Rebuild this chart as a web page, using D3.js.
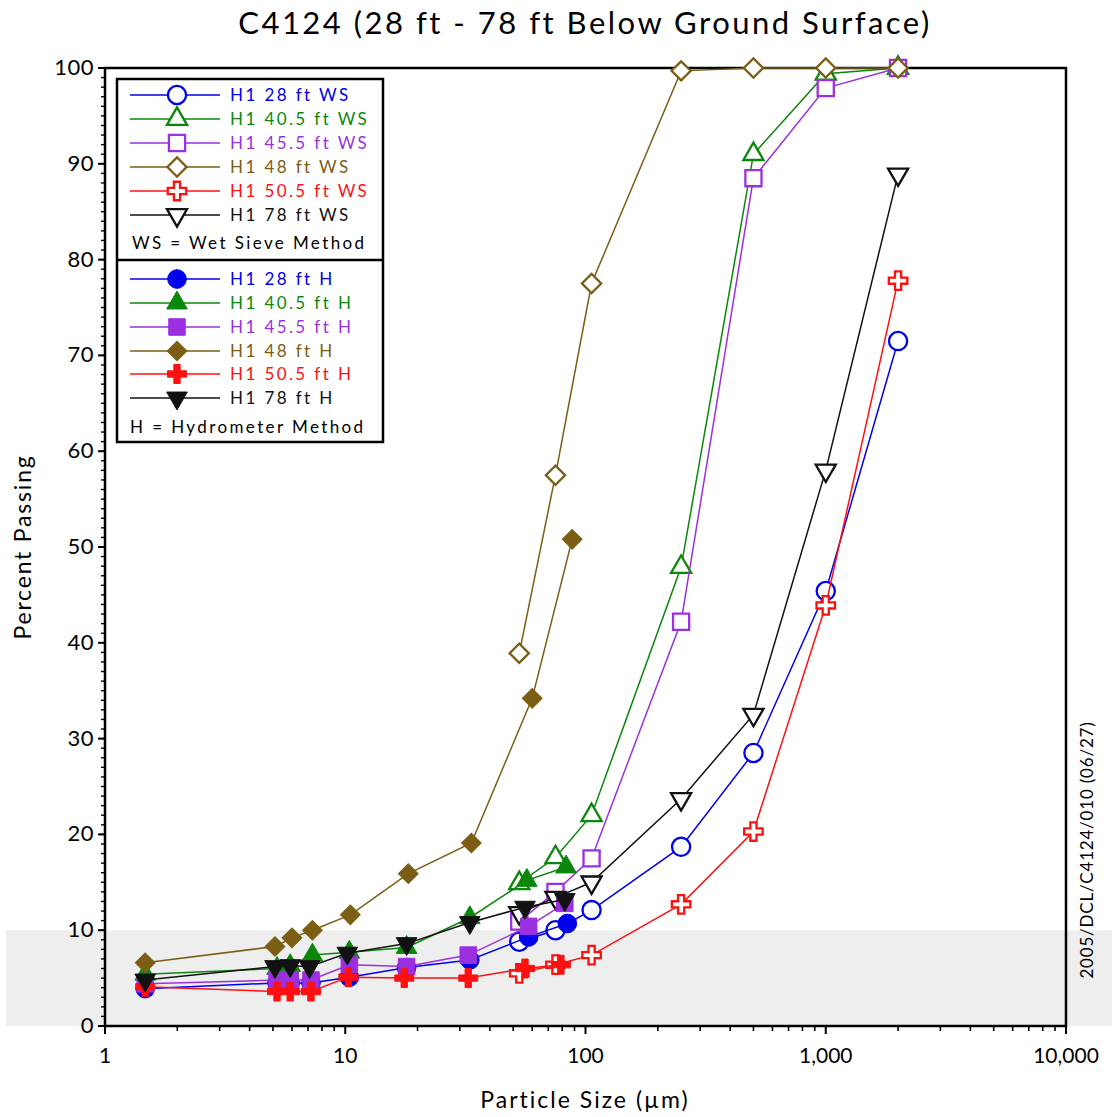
<!DOCTYPE html>
<html>
<head>
<meta charset="utf-8">
<script src="https://cdn.jsdelivr.net/npm/d3@7/dist/d3.min.js"></script>
<style>
  html, body { margin: 0; padding: 0; background: #fff; }
  svg { display: block; }
  text { font-family: Lato, "DejaVu Sans", sans-serif; }
</style>
</head>
<body>
<svg id="chart" width="1112" height="1117"></svg>
<script>
// Sieve sizes (µm) shared by every wet-sieve run
const sieveSizes = [53, 75, 106, 250, 500, 1000, 2000];

// Wet sieve percent passing
const ws28   = [8.8, 10.0, 12.1, 18.7, 28.5, 45.4, 71.5];
const ws40_5 = [14.9, 17.6, 22.0, 47.9, 91.0, 99.4, 100];
const ws45_5 = [10.9, 14.0, 17.5, 42.2, 88.5, 97.9, 100];
const ws48   = [38.9, 57.5, 77.5, 99.7, 100, 100, 100];
const ws50_5 = [5.5, 6.4, 7.4, 12.7, 20.3, 43.9, 77.8];
const ws78   = [11.8, 13.4, 15.0, 23.7, 32.5, 58.0, 88.9];

// Hydrometer particle diameters (µm)
const h28Size   = [1.47, 5.2, 5.9, 7.2, 10.4, 18.0, 33.0, 58, 84];
const h40_5Size = [1.47, 5.2, 5.9, 7.3, 10.4, 18.0, 33.0, 57, 83];
const h45_5Size = [1.47, 5.2, 5.9, 7.2, 10.4, 18.0, 32.5, 58, 82];
const h48Size   = [1.47, 5.1, 6.0, 7.3, 10.5, 18.3, 33.5, 60, 88];
const h50_5Size = [1.47, 5.2, 5.9, 7.2, 10.3, 17.6, 32.5, 56, 79];
const h78Size   = [1.47, 5.1, 5.9, 7.1, 10.2, 18.0, 33.0, 56, 82];

// Hydrometer percent passing
const h28   = [3.9, 4.5, 4.5, 4.5, 5.1, 6.1, 6.9, 9.3, 10.7];
const h40_5 = [5.4, 6.0, 6.3, 7.4, 7.7, 8.2, 11.3, 15.2, 16.6];
const h45_5 = [4.4, 4.8, 4.8, 4.8, 6.4, 6.2, 7.4, 10.4, 12.8];
const h48   = [6.6, 8.3, 9.2, 10.0, 11.6, 15.9, 19.1, 34.2, 50.8];
const h50_5 = [4.1, 3.6, 3.6, 3.6, 5.1, 5.0, 5.0, 6.0, 6.4];
const h78   = [4.8, 6.2, 6.3, 6.2, 7.6, 8.6, 10.8, 12.4, 13.2];

const seriesNames = ["H1 28 ft", "H1 40.5 ft", "H1 45.5 ft", "H1 48 ft", "H1 50.5 ft", "H1 78 ft"];
const seriesColors = ["#0000ee", "#0b870b", "#9b30e0", "#7b5e14", "#ff1010", "#111111"];
const seriesShapes = ["circle", "triangleUp", "square", "diamond", "cross", "triangleDown"];

const xTicks = [1, 10, 100, 1000, 10000];
const xTickLabels = ["1", "10", "100", "1,000", "10,000"];
const yTicks = [0, 10, 20, 30, 40, 50, 60, 70, 80, 90, 100];

const title = "C4124 (28 ft - 78 ft Below Ground Surface)";
const xTitle = "Particle Size (µm)";
const yTitle = "Percent Passing";
const sideNote = "2005/DCL/C4124/010 (06/27)";

const wsData = [ws28, ws40_5, ws45_5, ws48, ws50_5, ws78];
const hSizes = [h28Size, h40_5Size, h45_5Size, h48Size, h50_5Size, h78Size];
const hData = [h28, h40_5, h45_5, h48, h50_5, h78];

const svg = d3.select("#chart");
const plotLeft = 105, plotRight = 1066, plotTop = 68, plotBottom = 1026;

const x = d3.scaleLog().domain([1, 10000]).range([plotLeft, plotRight]);
const y = d3.scaleLinear().domain([0, 100]).range([plotBottom, plotTop]);

// Shaded band below 10 percent passing
svg.append("rect")
  .attr("x", 6).attr("y", y(10))
  .attr("width", 1112 - 6).attr("height", y(0) - y(10))
  .attr("fill", "#eeeeee");

// Title
svg.append("text")
  .attr("x", 585).attr("y", 34)
  .attr("text-anchor", "middle")
  .attr("font-size", 31)
  .attr("letter-spacing", 2.5)
  .text(title);

// X axis with minor log ticks
const minor = [];
for (let d = 1; d < 10000; d *= 10) for (let k = 2; k <= 9; k++) minor.push(d * k);
const xAxisG = svg.append("g");
xAxisG.selectAll("line.minor").data(minor).join("line")
  .attr("x1", d => x(d)).attr("x2", d => x(d))
  .attr("y1", plotBottom).attr("y2", plotBottom + 5)
  .attr("stroke", "#000").attr("stroke-width", 1.6);
xAxisG.selectAll("line.major").data(xTicks).join("line")
  .attr("x1", d => x(d)).attr("x2", d => x(d))
  .attr("y1", plotBottom).attr("y2", plotBottom + 8)
  .attr("stroke", "#000").attr("stroke-width", 2);
xAxisG.selectAll("text").data(xTicks).join("text")
  .attr("x", d => x(d)).attr("y", 1063)
  .attr("text-anchor", "middle")
  .attr("font-size", 21)
  .text((d, i) => xTickLabels[i]);

// Y axis with minor ticks every unit
const yMinor = d3.range(0, 101, 1);
const yAxisG = svg.append("g");
yAxisG.selectAll("line.minor").data(yMinor).join("line")
  .attr("x1", plotLeft - 4).attr("x2", plotLeft)
  .attr("y1", d => y(d)).attr("y2", d => y(d))
  .attr("stroke", "#000").attr("stroke-width", 1.4);
yAxisG.selectAll("line.major").data(yTicks).join("line")
  .attr("x1", plotLeft - 7).attr("x2", plotLeft)
  .attr("y1", d => y(d)).attr("y2", d => y(d))
  .attr("stroke", "#000").attr("stroke-width", 2);
yAxisG.selectAll("text").data(yTicks).join("text")
  .attr("x", plotLeft - 11).attr("y", d => y(d) + 7)
  .attr("text-anchor", "end")
  .attr("font-size", 22)
  .attr("letter-spacing", 0.5)
  .text(d => d);

// Plot frame
svg.append("path")
  .attr("d", `M${plotLeft},${plotBottom}L${plotLeft},${plotTop}L${plotRight},${plotTop}L${plotRight},${plotBottom}Z`)
  .attr("fill", "none").attr("stroke", "#000").attr("stroke-width", 2.5);

// Axis titles
svg.append("text")
  .attr("x", 585).attr("y", 1108)
  .attr("text-anchor", "middle")
  .attr("font-size", 23)
  .attr("letter-spacing", 2.0)
  .text(xTitle);
svg.append("text")
  .attr("transform", "translate(31,547) rotate(-90)")
  .attr("text-anchor", "middle")
  .attr("font-size", 23)
  .attr("letter-spacing", 1.8)
  .text(yTitle);

svg.append("text")
  .attr("transform", "translate(1093,850) rotate(-90)")
  .attr("text-anchor", "middle")
  .attr("font-size", 17)
  .attr("letter-spacing", 0.8)
  .text(sideNote);

// Marker shapes
function shapePath(shape, filled) {
  const k = filled ? 1.05 : 1;
  switch (shape) {
    case "circle": return d3.symbol(d3.symbolCircle, 260 * k)();
    case "triangleUp": return d3.symbol(d3.symbolTriangle, 175 * k)();
    case "triangleDown": return d3.symbol(d3.symbolTriangle, 175 * k)();
    case "square": return d3.symbol(d3.symbolSquare, 260 * k)();
    case "diamond": return d3.symbol(d3.symbolSquare, 185 * k)();
    case "cross": return d3.symbol(d3.symbolCross, 190 * k)();
  }
}
function shapeRotate(shape) {
  if (shape === "triangleDown") return " rotate(180)";
  if (shape === "diamond") return " rotate(45)";
  return "";
}
function drawMarker(g, shape, color, filled, cx, cy) {
  g.append("path")
    .attr("d", shapePath(shape, filled))
    .attr("transform", `translate(${cx},${cy})${shapeRotate(shape)}`)
    .attr("fill", filled ? color : "#fff")
    .attr("stroke", color)
    .attr("stroke-width", filled ? 1 : 2.3)
    .attr("stroke-linejoin", "miter");
}

const line = d3.line().x(d => x(d[0])).y(d => y(d[1]));
const plot = svg.append("g");

function drawSeries(sizes, vals, i, filled) {
  const pts = sizes.map((s, j) => [s, vals[j]]);
  const g = plot.append("g");
  g.append("path").attr("d", line(pts))
    .attr("fill", "none").attr("stroke", seriesColors[i]).attr("stroke-width", 1.5);
  pts.forEach(p => drawMarker(g, seriesShapes[i], seriesColors[i], filled, x(p[0]), y(p[1])));
}

wsData.forEach((vals, i) => drawSeries(sieveSizes, vals, i, false));
hData.forEach((vals, i) => drawSeries(hSizes[i], vals, i, true));

// Legend
const lg = svg.append("g");
lg.append("rect").attr("x", 117).attr("y", 79).attr("width", 266).attr("height", 363)
  .attr("fill", "#fff").attr("stroke", "#000").attr("stroke-width", 2.5);
lg.append("line").attr("x1", 117).attr("x2", 383).attr("y1", 260).attr("y2", 260)
  .attr("stroke", "#000").attr("stroke-width", 2.5);

const wsRows = [95, 119, 143, 167, 191, 215];
const hRows = [279, 303, 327, 351, 374, 398];
function legendRow(cy, i, filled, suffix) {
  lg.append("line").attr("x1", 130).attr("x2", 220).attr("y1", cy).attr("y2", cy)
    .attr("stroke", seriesColors[i]).attr("stroke-width", 1.5);
  drawMarker(lg, seriesShapes[i], seriesColors[i], filled, 177, cy);
  lg.append("text").attr("x", 230).attr("y", cy + 6)
    .attr("font-size", 17).attr("letter-spacing", 2.4)
    .attr("fill", seriesColors[i])
    .text(seriesNames[i] + suffix);
}
seriesNames.forEach((n, i) => legendRow(wsRows[i], i, false, " WS"));
seriesNames.forEach((n, i) => legendRow(hRows[i], i, true, " H"));
lg.append("text").attr("x", 132).attr("y", 249).attr("font-size", 17)
  .attr("letter-spacing", 2.4).text("WS = Wet Sieve Method");
lg.append("text").attr("x", 130).attr("y", 433).attr("font-size", 17)
  .attr("letter-spacing", 2.4).text("H = Hydrometer Method");
</script>
</body>
</html>
